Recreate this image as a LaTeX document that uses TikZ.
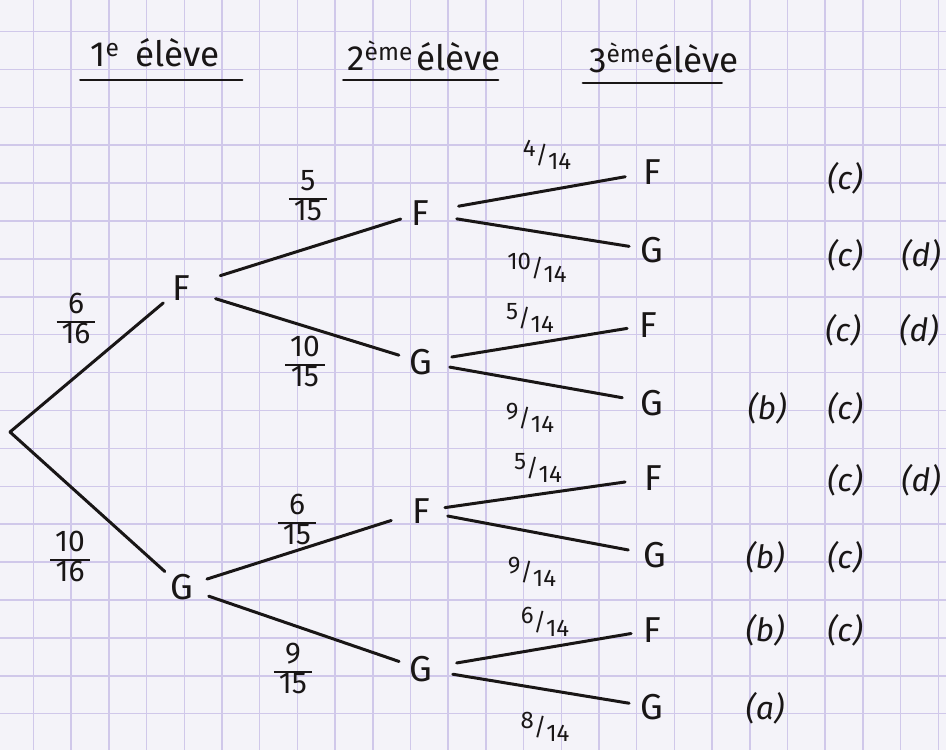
\documentclass[tikz,border=0pt]{standalone}
\usepackage{fontspec}
\setmainfont{Fira Sans}
\definecolor{paper}{RGB}{244,243,249}
\definecolor{gridc}{RGB}{208,200,234}
\definecolor{ink}{RGB}{25,22,22}
\newcommand\vfr[2]{{\setlength\arrayrulewidth{2.2pt}\renewcommand\arraystretch{0.85}\begin{tabular}{@{\,}c@{\,}}#1\\\hline #2\end{tabular}}}
\newcommand\sfr[2]{\raisebox{0.26em}{#1}/\raisebox{-0.26em}{#2}}
\begin{document}
\begin{tikzpicture}[x=1pt,y=-1pt,
  lt/.style={circle,minimum size=46pt,inner sep=0pt,text=ink,font=\fontsize{36}{36}\selectfont},
  br/.style={ink,line width=3pt,line cap=round},
  ul/.style={ink,line width=2.4pt,line cap=round},
  pr/.style={text=ink,inner sep=0pt,font=\fontsize{30}{30}\selectfont},
  sp/.style={text=ink,inner sep=0pt,font=\fontsize{24}{24}\selectfont},
  tag/.style={text=ink,inner sep=0pt,font=\itshape\fontsize{32}{32}\selectfont},
  hd/.style={text=ink,inner sep=0pt,anchor=base,font=\fontsize{35}{35}\selectfont}]

\fill[paper] (0,0) rectangle (946,750);
\useasboundingbox (0,0) rectangle (946,750);
\foreach \k in {0,...,24} \draw[gridc,line width=1.5pt] ({33.5+37.7*\k},0) -- ({33.5+37.7*\k},750);
\foreach \k in {0,...,18} \draw[gridc,line width=1.5pt] (0,{31.5+37.9*\k}) -- (946,{31.5+37.9*\k});

% headers
\node[hd] (h1) at (155,66) {1\textsuperscript{e}\hspace{0.45em}élève};
\node[hd] (h2) at (424,70) {2\textsuperscript{ème}\hspace{0.1em}élève};
\node[hd] (h3) at (664,72) {3\textsuperscript{ème}élève};
\draw[ul] (h1.base west) ++(-10,14) -- ++(162,0);
\draw[ul] (h2.base west) ++(-4,10) -- ++(155,0);
\draw[ul] (h3.base west) ++(-6,11) -- ++(139,0);

% tree nodes
\coordinate (root) at (10,432);
\node[lt] (F1) at (181,288) {F};
\node[lt] (G1) at (182,587) {G};
\node[lt] (F2) at (420,213) {F};
\node[lt] (G2) at (421,362) {G};
\node[lt] (F2b) at (421,511) {F};
\node[lt] (G2b) at (421,669) {G};
\node[lt] (L1) at (652,172) {F};
\node[lt] (L2) at (652,250) {G};
\node[lt] (L3) at (648,325) {F};
\node[lt] (L4) at (652,403) {G};
\node[lt] (L5) at (653,478) {F};
\node[lt] (L6) at (655,555) {G};
\node[lt] (L7) at (652,630) {F};
\node[lt] (L8) at (652,707) {G};

% branches
\draw[br] (root) -- (F1);
\draw[br] (root) -- (G1);
\draw[br,shorten <=18pt,shorten >=-3pt] (F1) -- (F2);
\draw[br,shorten <=13pt] (F1) -- (G2);
\draw[br,shorten <=3pt,shorten >=8pt] (G1) -- (F2b);
\draw[br,shorten <=5pt] (G1) -- (G2b);
\draw[br,shorten <=16pt,shorten >=4pt] (F2) -- (L1);
\draw[br,shorten <=14pt] (F2) -- (L2);
\draw[br,shorten <=8pt,shorten >=-2pt] (G2) -- (L3);
\draw[br,shorten <=6pt,shorten >=7pt] (G2) -- (L4);
\draw[br,shorten <=1pt,shorten >=5pt] (F2b) -- (L5);
\draw[br,shorten <=4pt,shorten >=4pt] (F2b) -- (L6);
\draw[br,shorten <=13pt,shorten >=-2pt] (G2b) -- (L7);
\draw[br,shorten <=9pt] (G2b) -- (L8);

% probabilities
\node[pr] (p1) at (76,322) {\vfr{6}{16}};
\node[pr] (p2) at (70,560) {\vfr{10}{16}};
\node[pr] (p3) at (308,199) {\vfr{5}{15}};
\node[pr] (p4) at (305,365) {\vfr{10}{15}};
\node[pr] (p5) at (297,523) {\vfr{6}{15}};
\node[pr] (p6) at (293,672) {\vfr{9}{15}};
\node[sp] (q1) at (547,155) {\sfr{4}{14}};
\node[sp] (q2) at (537,268) {\sfr{10}{14}};
\node[sp] (q3) at (530,318) {\sfr{5}{14}};
\node[sp] (q4) at (530,418) {\sfr{9}{14}};
\node[sp] (q5) at (538,468) {\sfr{5}{14}};
\node[sp] (q6) at (532,572) {\sfr{9}{14}};
\node[sp] (q7) at (545,622) {\sfr{6}{14}};
\node[sp] (q8) at (545,727) {\sfr{8}{14}};

% answers
\node[tag] (t1c) at (845,178) {(c)};
\node[tag] (t2c) at (845,255) {(c)};
\node[tag] (t2d) at (921,255) {(d)};
\node[tag] (t3c) at (843,330) {(c)};
\node[tag] (t3d) at (919,330) {(d)};
\node[tag] (t4b) at (767,408) {(b)};
\node[tag] (t4c) at (845,408) {(c)};
\node[tag] (t5c) at (845,480) {(c)};
\node[tag] (t5d) at (921,480) {(d)};
\node[tag] (t6b) at (765,557) {(b)};
\node[tag] (t6c) at (845,557) {(c)};
\node[tag] (t7b) at (765,630) {(b)};
\node[tag] (t7c) at (845,630) {(c)};
\node[tag] (t8a) at (765,708) {(a)};
\end{tikzpicture}
\end{document}
